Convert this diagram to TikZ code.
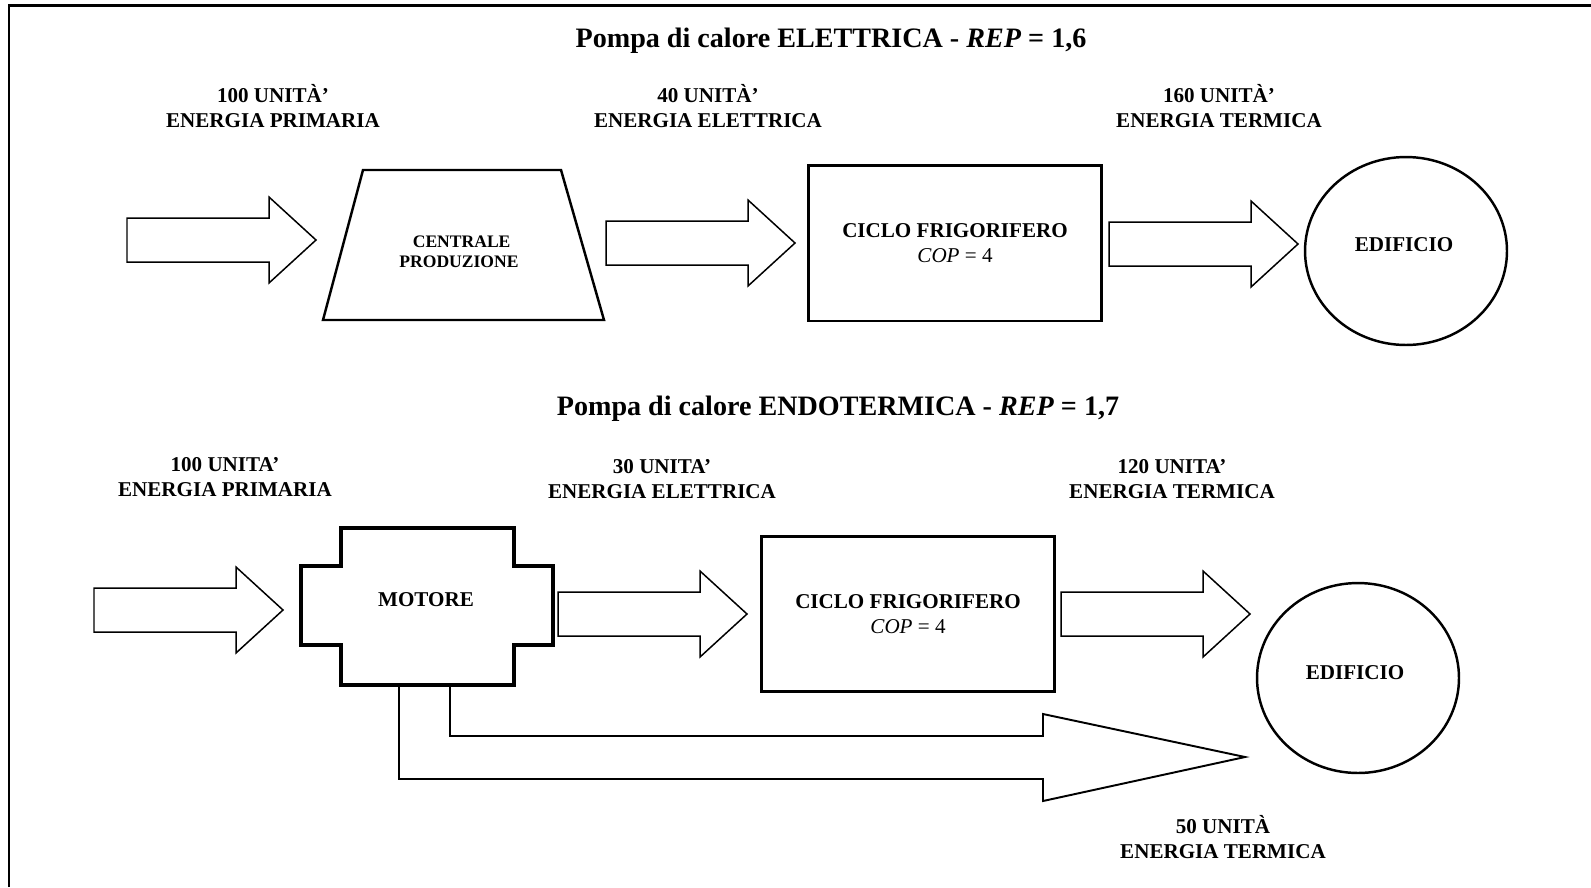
\documentclass[tikz,border=0pt]{standalone}
\usepackage{fontspec}
\setmainfont{Liberation Serif}
\usetikzlibrary{shapes.geometric}

\tikzset{
  freccia/.pic={
    \draw[line width=0.85pt] (0,-22) -- (142,-22) -- (142,-43) -- (189,0)
      -- (142,43) -- (142,22) -- (0,22) -- cycle;
  },
  etichetta/.style={align=center},
  titolo/.style={font=\fontsize{16pt}{19pt}\selectfont\bfseries}
}

\begin{document}
\begin{tikzpicture}[x=0.02cm,y=-0.02cm,font=\fontsize{12pt}{14.2pt}\selectfont\bfseries]
  \useasboundingbox (0,0) rectangle (1591,887);

  % cornice
  \draw[line width=1.7pt] (9,887) -- (9,5) -- (1591,5);

  % pompa elettrica
  \node[titolo] at (831,41) (tit1) {Pompa di calore ELETTRICA - \textit{REP} = 1,6};

  \node[etichetta] at (273,106) (lab1) {100 UNITÀ’\\ENERGIA PRIMARIA};
  \node[etichetta] at (708,106) (lab2) {40 UNITÀ’\\ENERGIA ELETTRICA};
  \node[etichetta] at (1219,106) (lab3) {160 UNITÀ’\\ENERGIA TERMICA};

  \pic at (127,240) {freccia};
  \pic at (606,243) {freccia};
  \pic at (1109,244) {freccia};

  \draw[line width=1.4pt] (323,320) -- (363,170) -- (561,170) -- (604,320) -- cycle;
  \node[
    align=center,
    font=\fontsize{10pt}{11.3pt}\selectfont\bfseries] at (459,252) (centrale) {\hspace*{0.3em}CENTRALE\\PRODUZIONE};

  \node[
    rectangle,
    minimum width=5.88cm,
    minimum height=3.12cm,
    align=center,
    draw,
    line width=1.7pt] at (955,243) (ciclo1) {CICLO FRIGORIFERO\\{\mdseries\textit{COP} = 4}};

  \node[
    ellipse,
    minimum width=4.04cm,
    minimum height=3.76cm,
    draw,
    line width=1.4pt] at (1406,251) (edificio1) {};
  \node at (1404,245) (testo1) {EDIFICIO};

  % pompa endotermica
  \node[titolo] at (838,409) (tit2) {Pompa di calore ENDOTERMICA - \textit{REP} = 1,7};

  \node[etichetta] at (225,477) (lab4) {100 UNITA’\\ENERGIA PRIMARIA};
  \node[etichetta] at (662,479) (lab5) {30 UNITA’\\ENERGIA ELETTRICA};
  \node[etichetta] at (1172,479) (lab6) {120 UNITA’\\ENERGIA TERMICA};

  \pic at (94,610) {freccia};
  \pic at (558,614) {freccia};
  \pic at (1061,614) {freccia};

  \draw[line width=2pt] (341,528) -- (514,528) -- (514,566) -- (553,566) -- (553,645)
    -- (514,645) -- (514,685) -- (341,685) -- (341,645) -- (301,645) -- (301,566)
    -- (341,566) -- cycle;
  \node at (426,600) (motore) {MOTORE};

  \node[
    rectangle,
    minimum width=5.88cm,
    minimum height=3.10cm,
    align=center,
    draw,
    line width=1.7pt] at (908,614) (ciclo2) {CICLO FRIGORIFERO\\{\mdseries\textit{COP} = 4}};

  \node[
    ellipse,
    minimum width=4.04cm,
    minimum height=3.80cm,
    draw,
    line width=1.4pt] at (1358,678) (edificio2) {};
  \node at (1355,673) (testo2) {EDIFICIO};

  % calore recuperato dal motore
  \draw[line width=1.1pt] (450,685) -- (450,736) -- (1043,736) -- (1043,714) -- (1245,757)
    -- (1043,801) -- (1043,779) -- (399,779) -- (399,685);
  \node[etichetta] at (1223,837) (lab7) {50 UNITÀ\\ENERGIA TERMICA};

\end{tikzpicture}
\end{document}
